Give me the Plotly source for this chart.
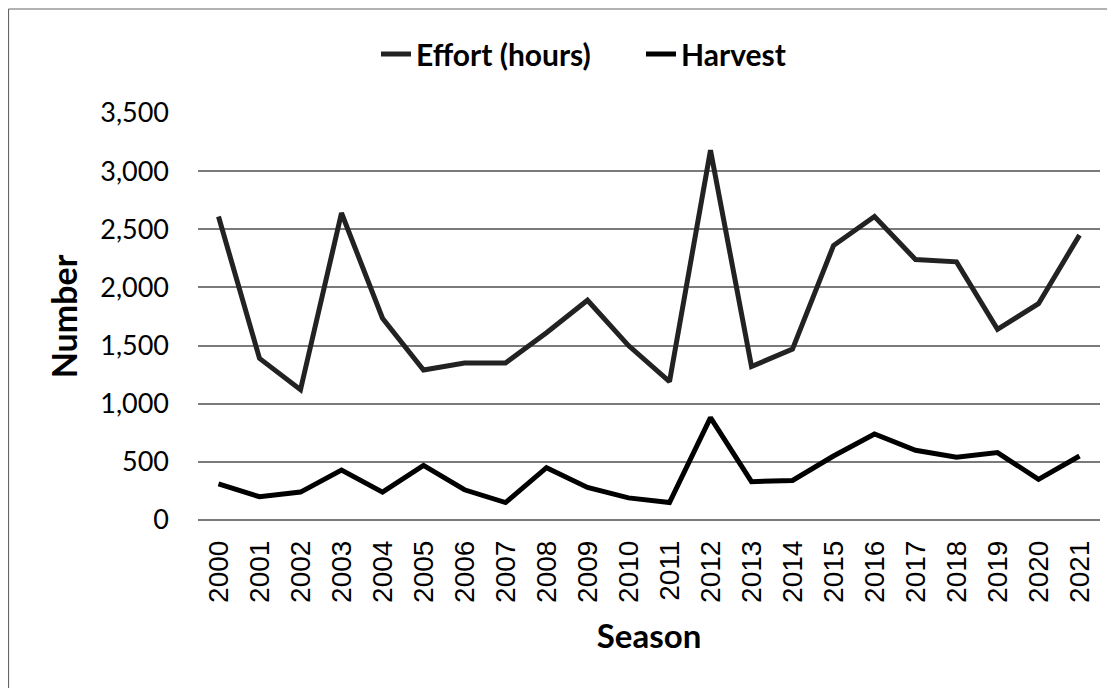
import plotly.graph_objects as go

seasons = [str(y) for y in range(2000, 2022)]
effort = [2610, 1390, 1120, 2640, 1735, 1290, 1350, 1350, 1610, 1890, 1500, 1190,
          3180, 1320, 1470, 2360, 2610, 2240, 2220, 1640, 1860, 2450]
harvest = [310, 200, 240, 430, 240, 470, 260, 150, 450, 280, 190, 150,
           880, 330, 340, 550, 740, 600, 540, 580, 350, 550]
y_ticks = [0, 500, 1000, 1500, 2000, 2500, 3000, 3500]

fig = go.Figure()
fig.add_trace(go.Scatter(x=seasons, y=effort, mode="lines", name="Effort (hours)",
                         line=dict(color="#222222", width=5)))
fig.add_trace(go.Scatter(x=seasons, y=harvest, mode="lines", name="Harvest",
                         line=dict(color="#000000", width=5)))

# page body has an 8px margin; figure sized to fit the 1115x688 window
W, H = 1107, 680
L, R, T, B = 190, 15, 105, 168
pw, ph = W - L - R, H - T - B

fig.update_layout(
    width=W, height=H,
    margin=dict(l=L, r=R, t=T, b=B, autoexpand=False),
    paper_bgcolor="white", plot_bgcolor="white",
    showlegend=True,
    legend=dict(orientation="h", xref="container", x=(418 - 8 - 42) / W, xanchor="left",
                yref="container", y=1 - 46 / H, yanchor="middle",
                font=dict(family="Lato", size=30, color="#000", weight="bold"),
                itemwidth=30, entrywidth=220, traceorder="normal"),
    xaxis=dict(type="category", range=[-0.5, 21.5], tickangle=-90,
               tickfont=dict(family="Liberation Sans", size=28, color="#000"),
               showgrid=False, showline=False, ticks="", ticklabelstandoff=14,
               title=dict(text="<b>Season</b>", font=dict(family="Lato", size=33, color="#000"),
                          standoff=23)),
    yaxis=dict(range=[0, 3500], tickvals=y_ticks, tickformat=",d",
               tickfont=dict(family="Lato", size=27, color="#000"),
               showgrid=True, gridcolor="#7a7a7a", gridwidth=1.5,
               zeroline=True, zerolinecolor="#7a7a7a", zerolinewidth=1.5,
               ticks="", ticklen=0, ticklabelstandoff=28,
               title=dict(text="<b>Number</b>", font=dict(family="Lato", size=34, color="#000"),
                          standoff=12)),
)

# outer chart-area border (top and left edges)
fig.add_shape(type="line", xref="paper", yref="paper",
              x0=(0.5 - L) / pw, x1=(W - L) / pw,
              y0=(T + ph - 1) / ph, y1=(T + ph - 1) / ph,
              line=dict(color="#666", width=1.2), layer="below")
fig.add_shape(type="line", xref="paper", yref="paper",
              x0=(0.5 - L) / pw, x1=(0.5 - L) / pw,
              y0=(T + ph - 1) / ph, y1=(T + ph - H) / ph,
              line=dict(color="#666", width=1.2), layer="below")

fig.write_html("out.html")
